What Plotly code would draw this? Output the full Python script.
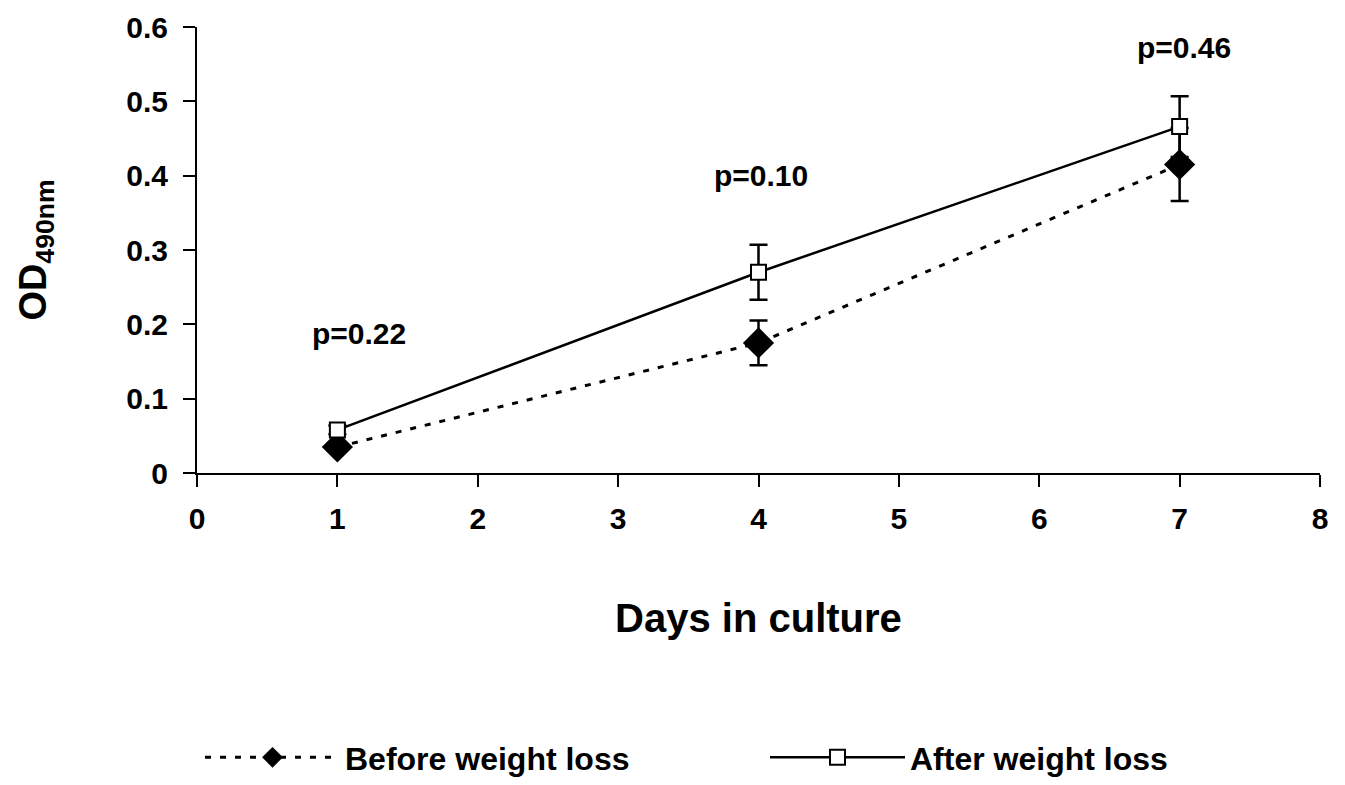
import plotly.graph_objects as go

days = [1, 4, 7]
before_vals = [0.035, 0.175, 0.415]
before_err = [0.006, 0.03, 0.049]
after_vals = [0.058, 0.270, 0.466]
after_err = [0.006, 0.037, 0.041]
p_labels = ["p=0.22", "p=0.10", "p=0.46"]
p_y = [0.188, 0.40, 0.573]
p_x = [1.154, 4.02, 7.03]

FONT = "Liberation Sans, Arial, sans-serif"
BOLD = dict(family=FONT, color="black", weight="bold")

fig = go.Figure()
fig.add_trace(go.Scatter(
    x=days, y=before_vals, name="Before weight loss", mode="lines+markers",
    line=dict(color="black", width=3, dash="6px,9px"),
    marker=dict(symbol="diamond", size=24, color="black"),
    error_y=dict(type="data", array=before_err, color="black", thickness=2.5, width=9),
    legend="legend",
))
fig.add_trace(go.Scatter(
    x=days, y=after_vals, name="After weight loss", mode="lines+markers",
    line=dict(color="black", width=2.5),
    marker=dict(symbol="square", size=15, color="white", line=dict(color="black", width=2)),
    error_y=dict(type="data", array=after_err, color="black", thickness=2.5, width=9),
    legend="legend2",
))

for x, y, t in zip(p_x, p_y, p_labels):
    fig.add_annotation(x=x, y=y, text=t, showarrow=False,
                       font=dict(size=30, **BOLD))

legend_common = dict(orientation="h", xref="container", yref="container",
                     xanchor="left", yanchor="middle", y=0.035,
                     font=dict(size=32, **BOLD), itemwidth=135,
                     bgcolor="rgba(0,0,0,0)")

fig.update_layout(
    width=1345, height=785,
    margin=dict(l=197, r=25, t=27, b=312, autoexpand=False),
    plot_bgcolor="white", paper_bgcolor="white",
    font=dict(family=FONT, color="black"),
    showlegend=True,
    legend=dict(x=200 / 1345, **legend_common),
    legend2=dict(x=765 / 1345, **legend_common),
    xaxis=dict(range=[0, 8], dtick=1, showline=True, linecolor="black", linewidth=2,
               ticks="outside", ticklen=12, tickwidth=2, tickcolor="black",
               showgrid=False, zeroline=False, ticklabelstandoff=6,
               tickfont=dict(size=30, **BOLD),
               title=dict(text="Days in culture", font=dict(size=40, **BOLD), standoff=70)),
    yaxis=dict(range=[0, 0.6], dtick=0.1, showline=True, linecolor="black", linewidth=2,
               ticks="outside", ticklen=12, tickwidth=2, tickcolor="black",
               showgrid=False, zeroline=False, ticklabelstandoff=9,
               tickfont=dict(size=30, **BOLD),
               title=dict(text="OD<sub>490nm</sub>", font=dict(size=38, **BOLD), standoff=68)),
)

fig.write_html("out.html")
